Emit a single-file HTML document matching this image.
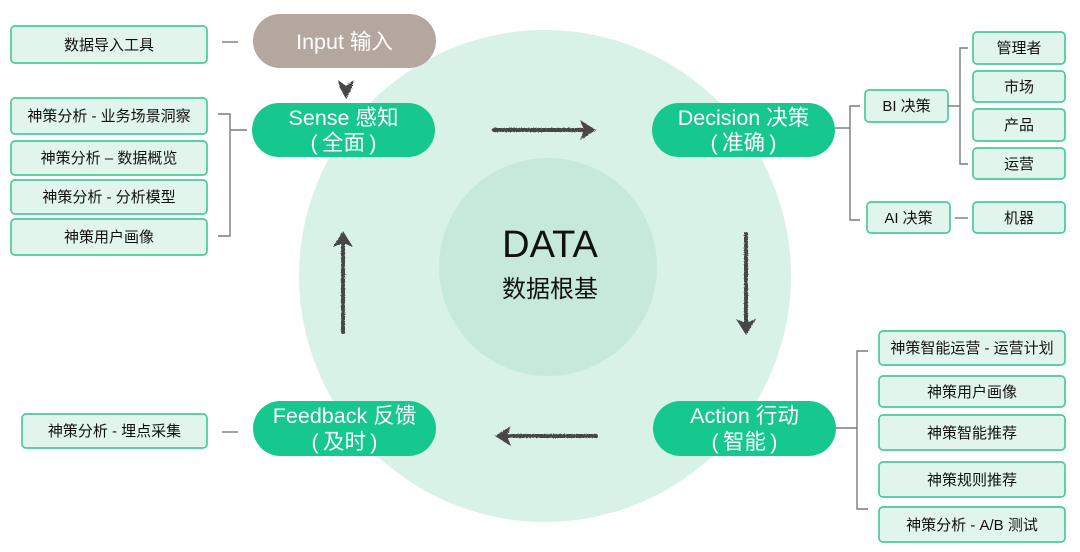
<!DOCTYPE html>
<html>
<head>
<meta charset="utf-8">
<style>
  html, body { margin:0; padding:0; background:#ffffff; }
  body { width:1080px; height:552px; overflow:hidden; }
  svg { display:block; }
  text { font-family: "Liberation Sans", "Noto Sans CJK SC", sans-serif; }
  .box { fill:#e2f5ed; stroke:#48cc97; stroke-width:1.7; }
  .bt { font-size:15px; fill:#111; text-anchor:middle; }
  .pill { fill:#16c88e; }
  .pt { font-size:21.5px; fill:#ffffff; text-anchor:middle; }
  .ln { stroke:#7a7a7a; stroke-width:1.4; fill:none; }
  .ar { stroke:#464646; stroke-width:4; fill:none; stroke-linecap:round; }
  .ah { fill:#464646; }
</style>
</head>
<body>
<svg width="1080" height="552" viewBox="0 0 1080 552" xmlns="http://www.w3.org/2000/svg">
  <defs>
    <filter id="rough" x="-10%" y="-10%" width="120%" height="120%">
      <feTurbulence type="fractalNoise" baseFrequency="0.9" numOctaves="1" seed="3" result="n"/>
      <feDisplacementMap in="SourceGraphic" in2="n" scale="2.2"/>
    </filter>
  </defs>

  <!-- circles -->
  <circle cx="545" cy="276" r="246" fill="#d8f2e8"/>
  <circle cx="548" cy="267" r="109" fill="#c6e9da"/>
  <text x="550" y="257" font-size="38" fill="#111" text-anchor="middle">DATA</text>
  <text x="550" y="297" font-size="24" fill="#111" text-anchor="middle">数据根基</text>

  <!-- hand drawn arrows -->
  <g filter="url(#rough)">
    <line class="ar" x1="494" y1="130" x2="583" y2="130"/>
    <polygon class="ah" points="596,130 580,120 584,130 580,140"/>
    <line class="ar" x1="746" y1="234" x2="746" y2="322"/>
    <polygon class="ah" points="746,335 736,319 746,323 756,319"/>
    <line class="ar" x1="596" y1="436" x2="508" y2="436"/>
    <polygon class="ah" points="495,436 511,426 507,436 511,446"/>
    <line class="ar" x1="343" y1="332" x2="343" y2="244"/>
    <polygon class="ah" points="343,231 333,247 343,243 353,247"/>
    <polygon class="ah" points="338,80 346,86 354,80 352,88 346,99 340,88"/>
  </g>

  <!-- Input -->
  <rect x="253" y="14" width="183" height="54" rx="27" fill="#b4a79f"/>
  <text class="pt" x="344.5" y="49">Input 输入</text>
  <line class="ln" x1="222" y1="42" x2="238" y2="42"/>
  <rect class="box" x="11" y="26" width="196" height="37" rx="4"/>
  <text class="bt" x="109" y="50">数据导入工具</text>

  <!-- Sense -->
  <rect class="pill" x="252" y="103" width="183" height="54" rx="27"/>
  <text class="pt" x="343.5" y="125">Sense 感知</text>
  <text class="pt" x="343.5" y="150">(&#8201;全面&#8201;)</text>
  <polyline class="ln" points="218,114 230,114 230,236 218,236"/>
  <line class="ln" x1="230" y1="130" x2="247" y2="130"/>
  <rect class="box" x="11" y="98" width="196" height="36" rx="4"/>
  <text class="bt" x="109" y="121">神策分析 - 业务场景洞察</text>
  <rect class="box" x="11" y="141" width="196" height="34" rx="4"/>
  <text class="bt" x="109" y="163">神策分析 – 数据概览</text>
  <rect class="box" x="11" y="180" width="196" height="34" rx="4"/>
  <text class="bt" x="109" y="202">神策分析 - 分析模型</text>
  <rect class="box" x="11" y="219" width="196" height="36" rx="4"/>
  <text class="bt" x="109" y="242">神策用户画像</text>

  <!-- Decision -->
  <rect class="pill" x="652" y="103" width="183" height="54" rx="27"/>
  <text class="pt" x="743.5" y="125">Decision 决策</text>
  <text class="pt" x="743.5" y="150">(&#8201;准确&#8201;)</text>
  <line class="ln" x1="835" y1="128" x2="850" y2="128"/>
  <polyline class="ln" points="860,106 850,106 850,220 860,220"/>
  <rect class="box" x="865" y="90" width="83" height="32" rx="4"/>
  <text class="bt" x="906.5" y="111">BI 决策</text>
  <rect class="box" x="867" y="202" width="83" height="31" rx="4"/>
  <text class="bt" x="908.5" y="223">AI 决策</text>
  <line class="ln" x1="948" y1="106" x2="960" y2="106"/>
  <polyline class="ln" points="968,48 960,48 960,164 968,164"/>
  <line class="ln" x1="955" y1="218" x2="968" y2="218"/>
  <rect class="box" x="973" y="32" width="92" height="32" rx="4"/>
  <text class="bt" x="1019" y="53">管理者</text>
  <rect class="box" x="973" y="71" width="92" height="31" rx="4"/>
  <text class="bt" x="1019" y="92">市场</text>
  <rect class="box" x="973" y="109" width="92" height="32" rx="4"/>
  <text class="bt" x="1019" y="130">产品</text>
  <rect class="box" x="973" y="148" width="92" height="31" rx="4"/>
  <text class="bt" x="1019" y="169">运营</text>
  <rect class="box" x="973" y="202" width="92" height="31" rx="4"/>
  <text class="bt" x="1019" y="223">机器</text>

  <!-- Action -->
  <rect class="pill" x="653" y="401" width="183" height="55" rx="27.5"/>
  <text class="pt" x="744.5" y="423">Action 行动</text>
  <text class="pt" x="744.5" y="449">(&#8201;智能&#8201;)</text>
  <line class="ln" x1="836" y1="428" x2="857" y2="428"/>
  <polyline class="ln" points="868,351 857,351 857,509 868,509"/>
  <rect class="box" x="879" y="331" width="186" height="34" rx="4"/>
  <text class="bt" x="972" y="353">神策智能运营 - 运营计划</text>
  <rect class="box" x="879" y="376" width="186" height="31" rx="4"/>
  <text class="bt" x="972" y="397">神策用户画像</text>
  <rect class="box" x="879" y="415" width="186" height="35" rx="4"/>
  <text class="bt" x="972" y="438">神策智能推荐</text>
  <rect class="box" x="879" y="462" width="186" height="35" rx="4"/>
  <text class="bt" x="972" y="485">神策规则推荐</text>
  <rect class="box" x="879" y="507" width="186" height="35" rx="4"/>
  <text class="bt" x="972" y="530">神策分析 - A/B 测试</text>

  <!-- Feedback -->
  <rect class="pill" x="253" y="401" width="183" height="55" rx="27.5"/>
  <text class="pt" x="344.5" y="423">Feedback 反馈</text>
  <text class="pt" x="344.5" y="449">(&#8201;及时&#8201;)</text>
  <line class="ln" x1="222" y1="432" x2="238" y2="432"/>
  <rect class="box" x="22" y="414" width="185" height="34" rx="4"/>
  <text class="bt" x="114.5" y="436">神策分析 - 埋点采集</text>
</svg>
</body>
</html>
